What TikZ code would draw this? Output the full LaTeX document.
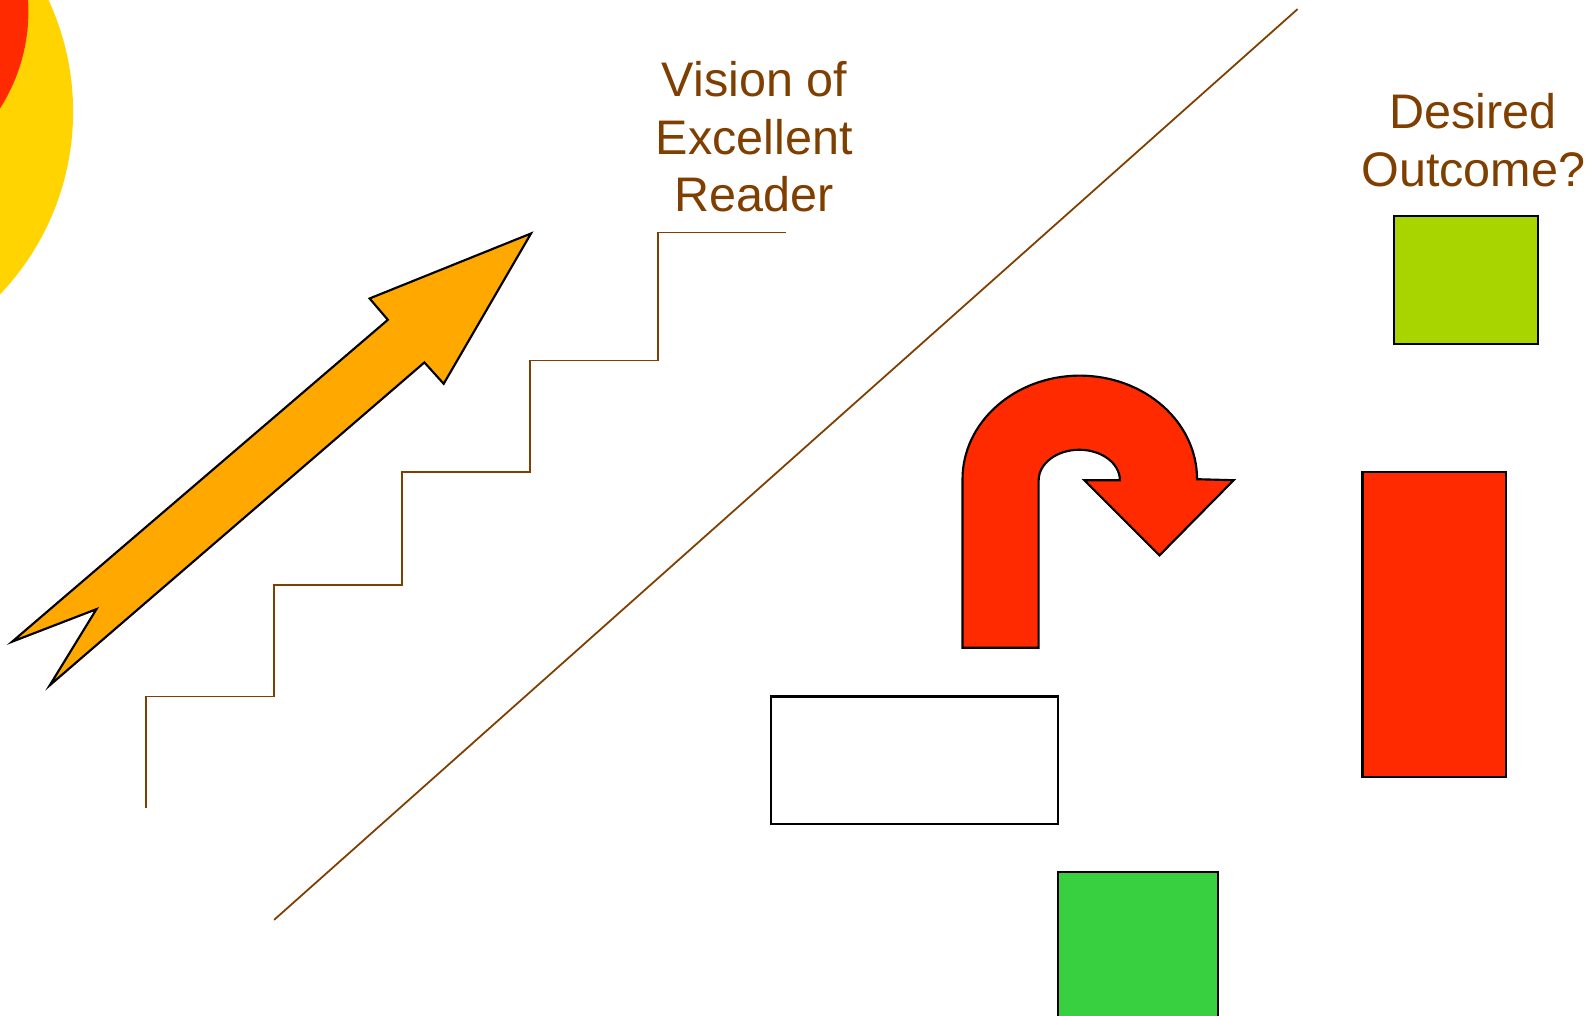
\documentclass[tikz,border=0pt]{standalone}
\usepackage{fontspec}
\setmainfont{Liberation Sans}
\definecolor{stairbrown}{RGB}{127,63,0}
\definecolor{sunyellow}{RGB}{255,212,0}
\definecolor{hotred}{RGB}{255,42,0}
\definecolor{arroworange}{RGB}{255,168,0}
\definecolor{limegreen}{RGB}{168,212,0}
\definecolor{leafgreen}{RGB}{56,208,64}
\tikzset{
  brownline/.style={draw=stairbrown, line width=0.5pt},
  shapeline/.style={draw=black, line width=0.6pt, line join=miter},
  caption/.style={text=stairbrown, align=center, font=\fontsize{13.6}{16.1}\selectfont}
}
\begin{document}
\begin{tikzpicture}
            \useasboundingbox (0,0) rectangle (15.68,10);
            \clip (0,0) rectangle (15.68,10);
            % Sun in the corner
            \fill[sunyellow] (-1.89,8.90) circle (2.61);
            \fill[hotred] (-1.50,9.89) circle (1.78);
            % Rising arrow
            \filldraw[shapeline, fill=arroworange] (5.23,7.70) -- (3.64,7.06) -- (3.82,6.85) -- (0.12,3.68) -- (0.95,4.00) -- (0.49,3.25) -- (4.18,6.43) -- (4.37,6.22) -- cycle;
            % Staircase
            \draw[brownline] (1.44,2.04) -- (1.44,3.14) -- (2.70,3.14) -- (2.70,4.24) -- (3.96,4.24) -- (3.96,5.35) -- (5.22,5.35) -- (5.22,6.45) -- (6.48,6.45) -- (6.48,7.71) -- (7.74,7.71);
            \node[caption] (vision) at (7.43,8.65) {Vision of\\Excellent\\Reader};
            % Dividing line
            \draw[brownline] (2.70,0.94) -- (12.78,9.91);
            % U-turn arrow
            \filldraw[shapeline, fill=hotred] (9.48,3.62) -- (9.48,5.28) arc (180:0:1.155 and 1.02) -- (12.15,5.27) -- (11.42,4.53) -- (10.68,5.27) -- (11.03,5.27) arc (0:180:0.40 and 0.30) -- (10.23,3.62) -- cycle;
            % Boxes
            \filldraw[shapeline, fill=white] (7.59,1.88) rectangle (10.42,3.14);
            \filldraw[shapeline, fill=leafgreen] (10.42,-0.1) rectangle (12.00,1.41);
            \filldraw[shapeline, fill=hotred] (13.42,2.35) rectangle (14.83,5.35);
            \filldraw[shapeline, fill=limegreen] (13.73,6.61) rectangle (15.15,7.87);
            \node[caption] (outcome) at (14.51,8.62) {Desired\\Outcome?};
        \end{tikzpicture}
\end{document}
